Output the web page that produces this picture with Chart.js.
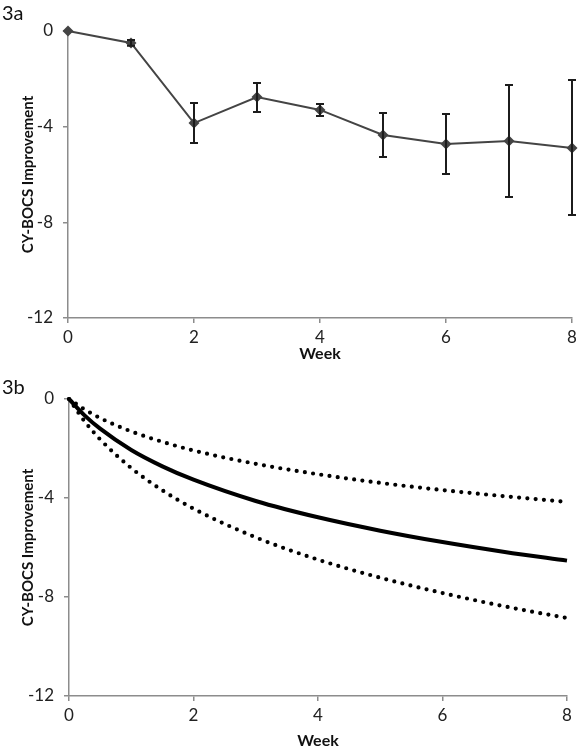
<!DOCTYPE html>
<html>
<head>
<meta charset="utf-8">
<script src="https://cdn.jsdelivr.net/npm/chart.js@4.4.1/dist/chart.umd.min.js"></script>
<style>
  body { margin: 0; background: #fff; width: 582px; height: 750px; position: relative; overflow: hidden; font-family: Lato, sans-serif; }
  .panel { position: absolute; left: 0; width: 582px; height: 375px; }
  .tag { position: absolute; left: 2px; font-size: 20px; color: #111; line-height: 1; }
</style>
</head>
<body>
<div class="panel" style="top:0"><canvas id="c3a" width="582" height="375"></canvas></div>
<div class="panel" style="top:375px"><canvas id="c3b" width="582" height="375"></canvas></div>
<div class="tag" style="top:2px">3a</div>
<div class="tag" style="top:376px">3b</div>
<script>
// Figure 3a - observed weekly means with error bars
const weeksA = [0, 1, 2, 3, 4, 5, 6, 7, 8];
const meanA  = [0, -0.5, -3.85, -2.76, -3.3, -4.35, -4.72, -4.6, -4.89];
const upperA = [0, -0.38, -3.01, -2.17, -3.05, -3.43, -3.47, -2.26, -2.05];
const lowerA = [0, -0.62, -4.68, -3.39, -3.55, -5.27, -5.98, -6.94, -7.69];

// Figure 3b - fitted curve with confidence band (dotted)
const weeksB = [0, 0.25, 0.5, 1, 1.5, 2, 3, 4, 5, 6, 7, 8];
const fitB   = [0, -0.66, -1.2, -2.06, -2.72, -3.26, -4.12, -4.78, -5.32, -5.78, -6.18, -6.53];
const hiB    = [0, -0.42, -0.77, -1.31, -1.73, -2.08, -2.62, -3.04, -3.39, -3.68, -3.93, -4.16];
const loB    = [0, -0.9, -1.63, -2.79, -3.69, -4.43, -5.59, -6.49, -7.22, -7.84, -8.38, -8.85];

const yTicks = [0, -4, -8, -12];
const xTicks = [0, 2, 4, 6, 8];

const FONT = 'Lato, sans-serif';
const AXIS = '#8c8c8c';
const TEXT = '#222';

function toPoints(xs, ys) {
    return xs.map((x, i) => ({ x: x, y: ys[i] }));
}

// error bars drawn through the chart's scales
const errorBars = {
    id: 'errorBars',
    afterDatasetsDraw(chart) {
        if (chart.canvas.id !== 'c3a') return;
        const { ctx, scales: { x, y } } = chart;
        ctx.save();
        ctx.strokeStyle = '#1c1c1c';
        ctx.lineWidth = 2;
        weeksA.forEach((w, i) => {
            if (upperA[i] === lowerA[i]) return;
            const px = x.getPixelForValue(w);
            const top = y.getPixelForValue(upperA[i]);
            const bot = y.getPixelForValue(lowerA[i]);
            ctx.beginPath();
            ctx.moveTo(px, top); ctx.lineTo(px, bot);
            ctx.moveTo(px - 4, top); ctx.lineTo(px + 4, top);
            ctx.moveTo(px - 4, bot); ctx.lineTo(px + 4, bot);
            ctx.stroke();
        });
        ctx.restore();
    }
};

function axes(opts) {
    return {
        x: {
            type: 'linear', min: 0, max: 8,
            afterBuildTicks: s => { s.ticks = xTicks.map(v => ({ value: v })); },
            afterFit: s => { s.height = opts.xh; },
            grid: { display: true, drawOnChartArea: false, drawTicks: true, tickLength: 5, color: AXIS, lineWidth: 1.5 },
            border: { display: true, color: AXIS, width: 1.5 },
            ticks: { color: TEXT, padding: 4, font: { family: FONT, size: 17 } },
            title: { display: true, text: 'Week', color: '#111', padding: { top: 0, bottom: opts.titlePad },
                     font: { family: FONT, size: 16, weight: 'bold' } }
        },
        y: {
            type: 'linear', min: -12, max: 0,
            afterBuildTicks: s => { s.ticks = yTicks.map(v => ({ value: v })); },
            afterFit: s => { s.width = opts.yw; },
            grid: { display: true, drawOnChartArea: false, drawTicks: true, tickLength: 5, color: AXIS, lineWidth: 1.5 },
            border: { display: true, color: AXIS, width: 1.5 },
            ticks: { color: TEXT, padding: 10, font: { family: FONT, size: 17 } },
            title: { display: true, text: 'CY-BOCS Improvement', color: '#111', padding: { top: 19, bottom: 0 },
                     font: { family: FONT, size: 15, weight: 'bold' } }
        }
    };
}

new Chart(document.getElementById('c3a'), {
    type: 'line',
    data: {
        datasets: [{
            data: toPoints(weeksA, meanA),
            borderColor: '#444',
            backgroundColor: '#444',
            borderWidth: 2,
            pointStyle: 'rectRot',
            pointRadius: 5.5,
            pointBorderWidth: 0,
            clip: false
        }]
    },
    options: {
        responsive: false,
        animation: false,
        layout: { padding: { top: 31, right: 10, left: 0, bottom: 0 } },
        plugins: { legend: { display: false }, tooltip: { enabled: false } },
        scales: axes({ xh: 57, yw: 68, titlePad: 12 })
    },
    plugins: [errorBars]
});

const dotted = { borderDash: [0, 8.3], borderCapStyle: 'round', borderWidth: 4.2 };

new Chart(document.getElementById('c3b'), {
    type: 'line',
    data: {
        datasets: [
            { data: toPoints(weeksB, fitB), borderColor: '#000', borderWidth: 4 },
            Object.assign({ data: toPoints(weeksB, hiB), borderColor: '#000' }, dotted),
            Object.assign({ data: toPoints(weeksB, loB), borderColor: '#000' }, dotted)
        ].map(d => Object.assign(d, { pointRadius: 0, cubicInterpolationMode: 'monotone', clip: false }))
    },
    options: {
        responsive: false,
        animation: false,
        layout: { padding: { top: 24, right: 15, left: 0, bottom: 0 } },
        plugins: { legend: { display: false }, tooltip: { enabled: false } },
        scales: axes({ xh: 54, yw: 69, titlePad: 0 })
    }
});
</script>
</body>
</html>
